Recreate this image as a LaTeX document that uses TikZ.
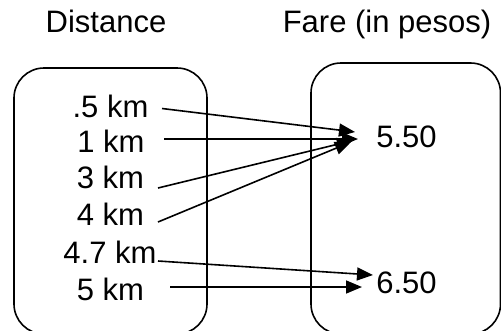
\documentclass[tikz,border=0pt]{standalone}
\usepackage{fontspec}
\setmainfont{Liberation Sans}
\usetikzlibrary{arrows.meta}
\begin{document}
\begin{tikzpicture}[x=1pt,y=-1pt,
  lbl/.style={font=\fontsize{31}{31}\selectfont, inner sep=0pt, anchor=base},
  setbox/.style={draw, line width=1.6pt, rounded corners=30pt},
  conn/.style={line width=1.6pt, -{Triangle[length=16pt,width=13pt]}}]
\useasboundingbox (0,0) rectangle (501,330);
\draw[setbox] (14,68) rectangle (207,334);
\draw[setbox] (311,63) rectangle (500.5,334);
\node[lbl] (hd) at (106,32) {Distance};
\node[lbl] (hf) at (387,32) {Fare (in pesos)};
\node[lbl] (d1) at (110.5,117) {.5 km};
\node[lbl] (d2) at (111,152) {1 km};
\node[lbl] (d3) at (110.5,188) {3 km};
\node[lbl] (d4) at (110.5,225) {4 km};
\node[lbl] (d5) at (110,263) {4.7 km};
\node[lbl] (d6) at (110.5,300) {5 km};
\node[lbl] (f1) at (406.5,147) {5.50};
\node[lbl] (f2) at (406.5,293) {6.50};
\coordinate (s1) at (162,108.5);
\coordinate (s2) at (164,139);
\coordinate (s3) at (158,188);
\coordinate (s4) at (158,222);
\coordinate (s5) at (158,261);
\coordinate (s6) at (170,287);
\coordinate (t1) at (355,132);
\coordinate (t2) at (358,139);
\coordinate (t3) at (353,140.5);
\coordinate (t4) at (351,142);
\coordinate (t5) at (373,275);
\coordinate (t6) at (362,287);
\draw[conn] (s1) -- (t1);
\draw[conn] (s2) -- (t2);
\draw[conn] (s3) -- (t3);
\draw[conn] (s4) -- (t4);
\draw[conn] (s5) -- (t5);
\draw[conn] (s6) -- (t6);
\end{tikzpicture}
\end{document}
